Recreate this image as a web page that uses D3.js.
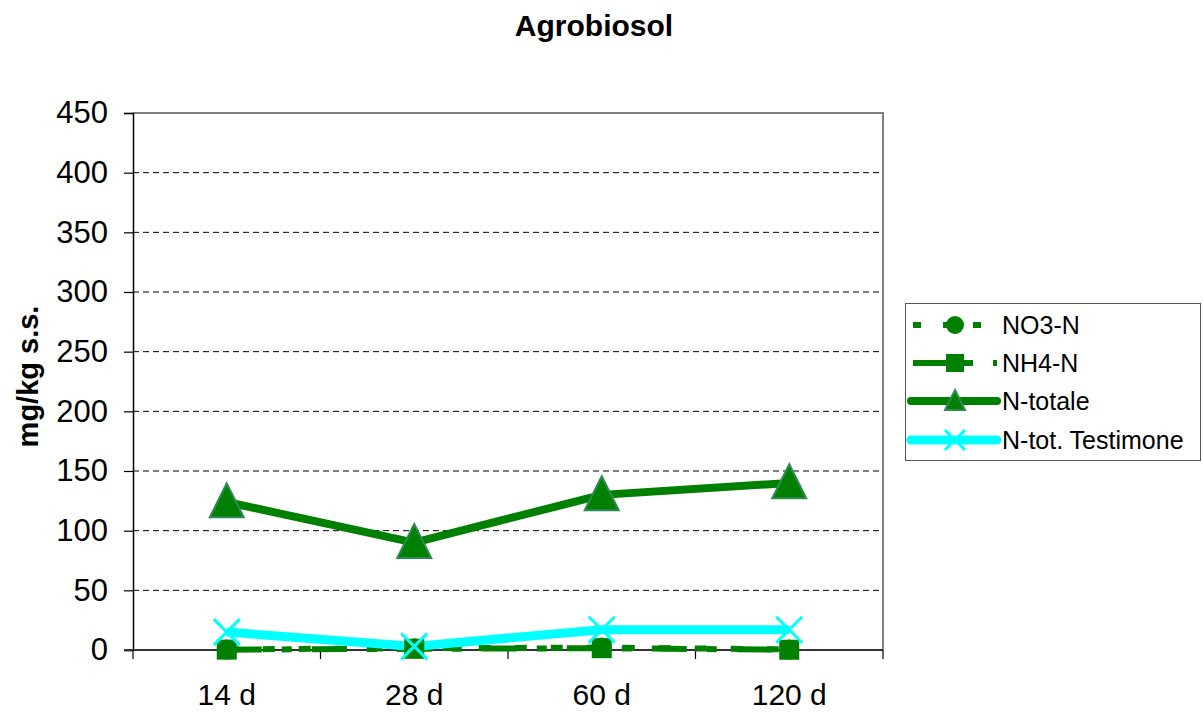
<!DOCTYPE html>
<html>
<head>
<meta charset="utf-8">
<script src="https://cdn.jsdelivr.net/npm/d3@7"></script>
<style>
  html, body { margin: 0; padding: 0; background: #fff; }
  svg { display: block; font-family: Arial, "Liberation Sans", sans-serif; }
</style>
</head>
<body>
<svg id="chart" width="1203" height="713"></svg>
<script>
// Sampling times and measured nitrogen fractions (mg/kg s.s.)
const categories = ["14 d", "28 d", "60 d", "120 d"];
const no3N = [0.5, 1.5, 2, 0.5];
const nh4N = [0.3, 1, 1.5, 0.2];
const nTotale = [124, 90, 130, 140];
const nTotTestimone = [15, 3, 17, 17];
const yTicks = [0, 50, 100, 150, 200, 250, 300, 350, 400, 450];
const seriesNames = ["NO3-N", "NH4-N", "N-totale", "N-tot. Testimone"];

const svg = d3.select("#chart");
const plot = { left: 133, right: 883, top: 113, bottom: 650 };

const x = d3.scaleBand().domain(categories).range([plot.left, plot.right]);
const y = d3.scaleLinear().domain([0, 450]).range([plot.bottom, plot.top]);
const cx = d => x(d) + x.bandwidth() / 2;

// Title
svg.append("text").attr("x", 594).attr("y", 36)
  .attr("text-anchor", "middle").attr("font-weight", "bold")
  .attr("font-size", 30).text("Agrobiosol");

// Horizontal dashed gridlines
svg.append("g").selectAll("line").data(yTicks.filter(t => t > 0 && t < 450)).join("line")
  .attr("x1", plot.left).attr("x2", plot.right)
  .attr("y1", d => y(d)).attr("y2", d => y(d))
  .attr("stroke", "#000").attr("stroke-width", 1).attr("stroke-dasharray", "6,4");

// Top and right frame
svg.append("path")
  .attr("d", `M${plot.left},${plot.top}H${plot.right}V${plot.bottom}`)
  .attr("fill", "none").attr("stroke", "#808080").attr("stroke-width", 2);

// Y axis
const yAxis = svg.append("g").attr("transform", `translate(${plot.left},0)`)
  .call(d3.axisLeft(y).tickValues(yTicks).tickSize(9).tickPadding(16));
yAxis.select(".domain").attr("stroke", "#000").attr("stroke-width", 1.5);
yAxis.selectAll(".tick line").attr("stroke", "#000").attr("stroke-width", 1.2);
yAxis.selectAll(".tick text").attr("font-size", 31).attr("fill", "#000")
  .attr("font-family", "Arial, 'Liberation Sans', sans-serif");

// X axis with ticks on category boundaries
const xAxis = svg.append("g").attr("transform", `translate(0,${plot.bottom})`);
xAxis.append("line").attr("x1", plot.left - 9).attr("x2", plot.right)
  .attr("stroke", "#333").attr("stroke-width", 2);
const bounds = categories.map(c => x(c)).concat([plot.right]);
xAxis.selectAll("line.tick").data(bounds).join("line").attr("class", "tick")
  .attr("x1", d => d).attr("x2", d => d).attr("y1", 0).attr("y2", 9)
  .attr("stroke", "#000").attr("stroke-width", 1.2);
xAxis.selectAll("text").data(categories).join("text")
  .attr("x", d => cx(d)).attr("y", 55).attr("text-anchor", "middle")
  .attr("font-size", 30).text(d => d);

// Y axis title
svg.append("text")
  .attr("transform", `translate(38,${(plot.top + plot.bottom) / 2 - 5}) rotate(-90)`)
  .attr("text-anchor", "middle").attr("font-weight", "bold").attr("font-size", 29)
  .text("mg/kg s.s.");

const line = vals => d3.line().x((d, i) => cx(categories[i])).y(d => y(d))(vals);
const green = "#008000";

// NO3-N: short dashed line with circles
svg.append("path").attr("d", line(no3N)).attr("fill", "none")
  .attr("stroke", green).attr("stroke-width", 6).attr("stroke-dasharray", "12,24");
// NH4-N: dash-dot line with squares
svg.append("path").attr("d", line(nh4N)).attr("fill", "none")
  .attr("stroke", green).attr("stroke-width", 6).attr("stroke-dasharray", "35,20,10,20");
// N-totale
svg.append("path").attr("d", line(nTotale)).attr("fill", "none")
  .attr("stroke", green).attr("stroke-width", 8).attr("stroke-linejoin", "round");
// N-tot. Testimone
svg.append("path").attr("d", line(nTotTestimone)).attr("fill", "none")
  .attr("stroke", "#00ffff").attr("stroke-width", 9).attr("stroke-linejoin", "round");

const circle = (g, px, py, r) => g.append("circle").attr("cx", px).attr("cy", py).attr("r", r).attr("fill", green);
const square = (g, px, py, s) => g.append("rect").attr("x", px - s / 2).attr("y", py - s / 2)
  .attr("width", s).attr("height", s).attr("fill", green);
const triangle = (g, px, py, s) => g.append("path")
  .attr("d", `M${px},${py - s * 0.55}L${px + s / 2},${py + s * 0.45}L${px - s / 2},${py + s * 0.45}Z`)
  .attr("fill", green).attr("stroke", "#2e8b57").attr("stroke-width", 2);
const cross = (g, px, py, s) => g.append("path")
  .attr("d", `M${px - s / 2},${py - s / 2}L${px + s / 2},${py + s / 2}M${px + s / 2},${py - s / 2}L${px - s / 2},${py + s / 2}`)
  .attr("stroke", "#00ffff").attr("stroke-width", 3);

const markers = svg.append("g");
no3N.forEach((v, i) => circle(markers, cx(categories[i]), y(v), 10));
nh4N.forEach((v, i) => square(markers, cx(categories[i]), y(v), 20));
nTotale.forEach((v, i) => triangle(markers, cx(categories[i]), y(v), 34));
nTotTestimone.forEach((v, i) => cross(markers, cx(categories[i]), y(v), 26));

// Legend
const lg = svg.append("g");
lg.append("rect").attr("x", 905.5).attr("y", 303.5).attr("width", 295).attr("height", 157)
  .attr("fill", "#fff").attr("stroke", "#555").attr("stroke-width", 1);
const rowsY = [325, 363, 401, 440];
const lx0 = 913, lx1 = 997, lm = 955;
// NO3-N
lg.append("line").attr("x1", lx0).attr("x2", lx1).attr("y1", rowsY[0]).attr("y2", rowsY[0])
  .attr("stroke", green).attr("stroke-width", 6).attr("stroke-dasharray", "8,22");
circle(lg, lm, rowsY[0], 9);
// NH4-N
lg.append("line").attr("x1", lx0).attr("x2", lx1).attr("y1", rowsY[1]).attr("y2", rowsY[1])
  .attr("stroke", green).attr("stroke-width", 6).attr("stroke-dasharray", "38,10,12,20");
square(lg, lm, rowsY[1], 18);
// N-totale
lg.append("line").attr("x1", lx0 - 2).attr("x2", lx1).attr("y1", rowsY[2]).attr("y2", rowsY[2])
  .attr("stroke", green).attr("stroke-width", 8).attr("stroke-linecap", "round");
triangle(lg, lm, rowsY[2], 20);
// N-tot. Testimone
lg.append("line").attr("x1", lx0 - 2).attr("x2", lx1).attr("y1", rowsY[3]).attr("y2", rowsY[3])
  .attr("stroke", "#00ffff").attr("stroke-width", 9).attr("stroke-linecap", "round");
cross(lg, lm, rowsY[3], 20);

lg.selectAll("text.lbl").data(seriesNames).join("text").attr("class", "lbl")
  .attr("x", 1002).attr("y", (d, i) => rowsY[i] + 9).attr("font-size", 25).text(d => d);
</script>
</body>
</html>
